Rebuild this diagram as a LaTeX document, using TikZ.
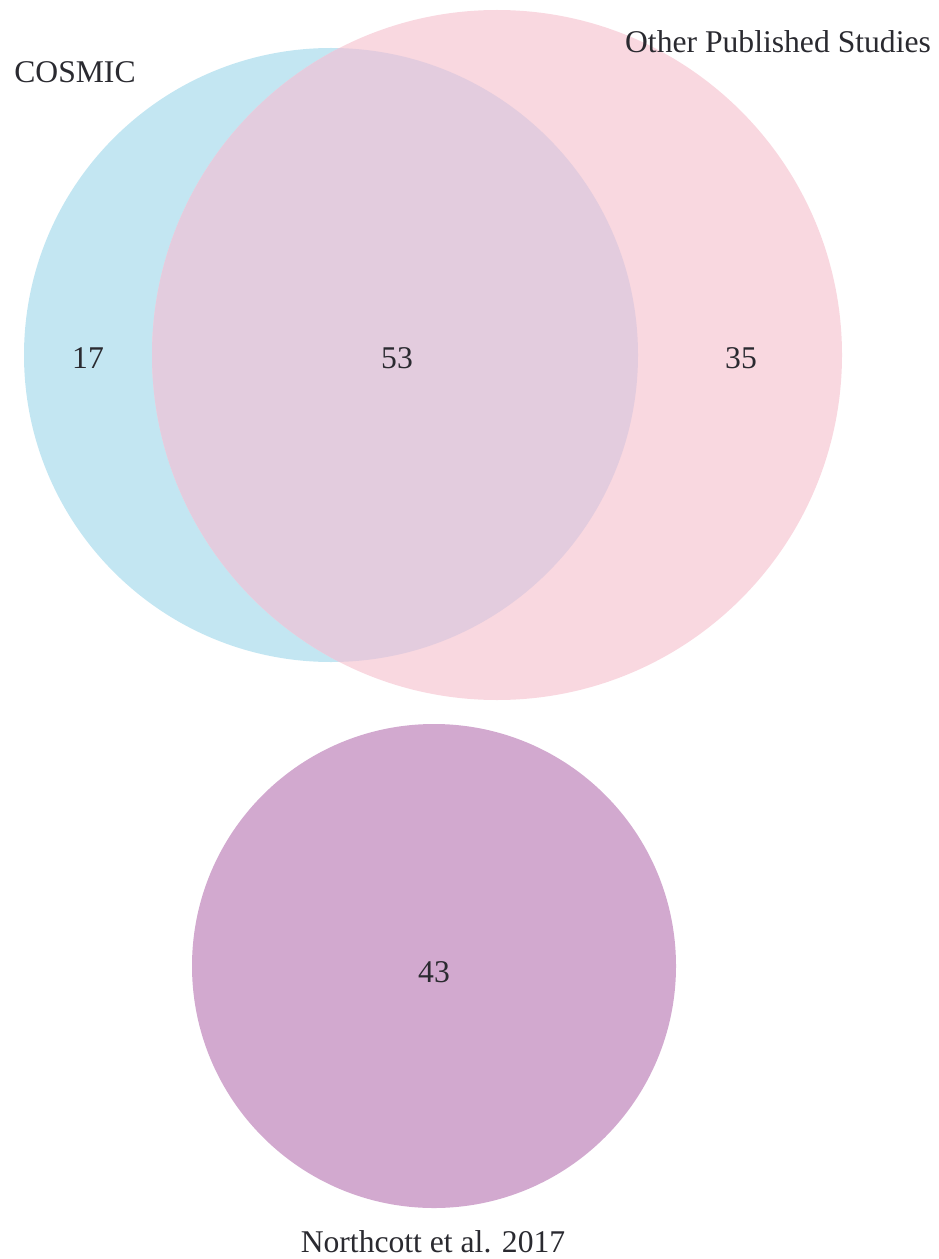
\documentclass[tikz,border=0pt]{standalone}
\usepackage{fontspec}
\setmainfont{Liberation Serif}
\definecolor{vnBlue}{HTML}{C3E6F2}
\definecolor{vnPink}{HTML}{F9D8E0}
\definecolor{vnBoth}{HTML}{E3CCDE}
\definecolor{vnPurple}{HTML}{D2A9CF}
\definecolor{vnText}{HTML}{2A2A30}
\tikzset{vnlab/.style={font=\fontsize{18}{20}\selectfont,text=vnText,inner sep=0pt},
         vnnum/.style={font=\fontsize{18}{20}\selectfont,text=vnText,inner sep=0pt}}

\begin{document}
\begin{tikzpicture}
    \useasboundingbox (0,0) rectangle (18.76,-25.18);
    \fill[vnBlue] (6.62,-7.10) circle (6.14);
    \fill[vnPink] (9.94,-7.10) circle (6.90);
    \begin{scope}
      \clip (6.62,-7.10) circle (6.14);
      \fill[vnBoth] (9.94,-7.10) circle (6.90);
    \end{scope}
    \fill[vnPurple] (8.68,-19.32) circle (4.84);
    \node[vnlab] (cosmic) at (1.50,-1.44) {COSMIC};
    \node[vnlab] (other) at (15.56,-0.84) {Other Published Studies};
    \node[vnlab] (north) at (8.66,-24.84) {Northcott et al. 2017};
    \foreach \x/\y/\n/\l in {1.76/-7.16/onlyc/17,7.94/-7.16/both/53,14.82/-7.16/onlyo/35,8.68/-19.44/onlyn/43}
      {\node[vnnum] (\n) at (\x,\y) {\l};}
  \end{tikzpicture}
\end{document}
